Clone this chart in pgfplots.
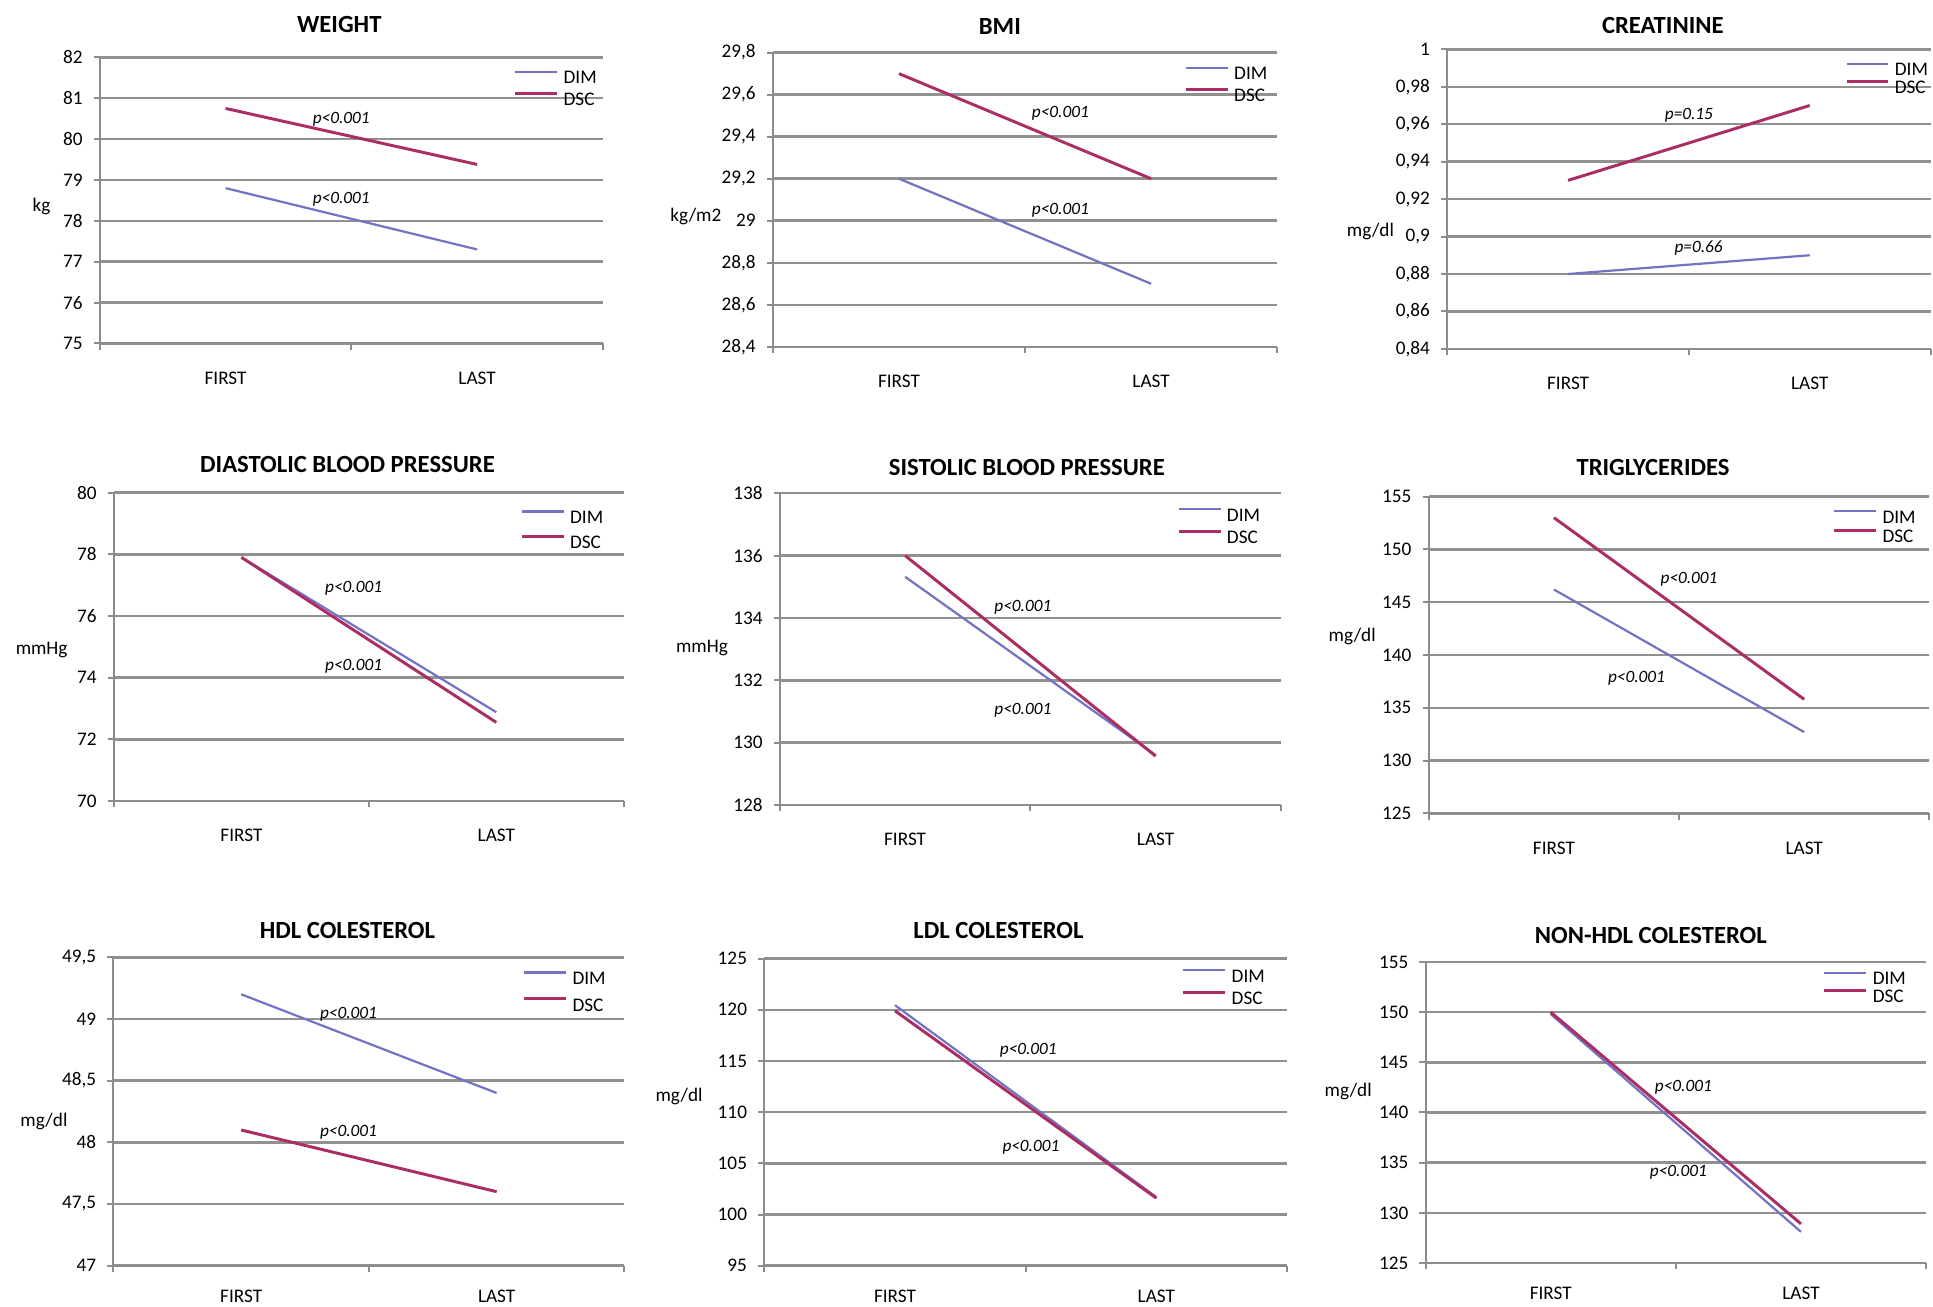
\documentclass[border=0pt]{standalone}
\usepackage{fontspec}
\setmainfont{Carlito}
\usepackage{pgfplots}
\pgfplotsset{compat=1.18}

\definecolor{dimc}{RGB}{115,115,195}
\definecolor{dscc}{RGB}{170,45,100}
\definecolor{gridc}{RGB}{145,145,145}
\definecolor{axc}{RGB}{140,140,140}

\newcommand\tickfont{\fontsize{7.8}{9}\selectfont}
\newcommand\titlefont{\fontsize{10}{12}\selectfont\bfseries}
\newcommand\pfont{\fontsize{7}{8}\selectfont\itshape}

\pgfplotsset{
  panel/.style={
    scale only axis, anchor=south west, clip=false,
    xmin=0, xmax=2,
    xtick={0,1,2}, xticklabels={},
    extra x ticks={0.5,1.5}, extra x tick labels={FIRST,LAST},
    extra x tick style={major tick length=0pt},
    axis lines=left, axis line style={-, draw=axc, line width=0.8pt},
    ymajorgrids, grid style={draw=gridc, line width=1pt},
    tick align=outside, major tick length=2.5pt,
    tick style={draw=axc, line width=0.8pt},
    tick label style={font=\tickfont},
    xticklabel style={yshift=-8pt},
    yticklabel style={xshift=-1pt},
    /pgf/number format/use comma,
    /pgf/number format/assume math mode=true,
    ylabel style={rotate=-90, anchor=center, font=\tickfont},
    legend cell align=left,
    legend image code/.code={\draw[##1] (0pt,2.4pt) -- (17pt,2.4pt);},
    legend style={anchor=west, draw=none, fill=none, inner sep=0pt,
      column sep=2pt, font=\tickfont,
      nodes={inner sep=0pt, text height=5pt, text depth=0pt}},
  },
  lastrow/.style={xticklabel style={yshift=1.8pt}},
  dim/.style={draw=dimc, line width=0.9pt},
  dsc/.style={draw=dscc, line width=1.2pt},
}

\begin{document}
\begin{tikzpicture}
\useasboundingbox (0,0) rectangle (784pt,-530pt);

% WEIGHT
\begin{axis}[panel, at={(40.5pt,-139.3pt)}, width=204pt, height=116.05pt,
  ymin=75, ymax=82, ytick={75,76,...,82},
  title={WEIGHT}, title style={at={(0.476,1)}, anchor=center, yshift=7.25pt, font=\titlefont},
  ylabel={kg}, ylabel style={at={(-0.116,0.478)}},
  legend style={at={(axis cs:1.644,81.25)}, row sep=3.25pt}]
\addplot[dim] coordinates {(0.5,78.8) (1.5,77.3)};
\addplot[dsc] coordinates {(0.5,80.75) (1.5,79.38)};
\legend{DIM,DSC}
\node[font=\pfont] at (axis cs:0.96,80.49) {p<0.001};
\node[font=\pfont] at (axis cs:0.96,78.52) {p<0.001};
\end{axis}

% BMI
\begin{axis}[panel, at={(313.5pt,-140.65pt)}, width=204.5pt, height=119.3pt,
  ymin=28.4, ymax=29.8, ytick={28.4,28.6,28.8,29,29.2,29.4,29.6,29.8},
  title={BMI}, title style={at={(0.45,1)}, anchor=center, yshift=4.7pt, font=\titlefont},
  ylabel={kg/m2}, ylabel style={at={(-0.153,0.442)}},
  legend style={at={(axis cs:1.63,29.65)}, row sep=3.45pt}]
\addplot[dim] coordinates {(0.5,29.2) (1.5,28.7)};
\addplot[dsc] coordinates {(0.5,29.7) (1.5,29.2)};
\legend{DIM,DSC}
\node[font=\pfont] at (axis cs:1.14,29.51) {p<0.001};
\node[font=\pfont] at (axis cs:1.14,29.05) {p<0.001};
\end{axis}

% CREATININE
\begin{axis}[panel, at={(587pt,-141.5pt)}, width=196pt, height=121.5pt,
  ymin=0.84, ymax=1, ytick={0.84,0.86,0.88,0.9,0.92,0.94,0.96,0.98,1},
  title={CREATININE}, title style={at={(0.446,1)}, anchor=center, yshift=3.75pt, font=\titlefont},
  ylabel={mg/dl}, ylabel style={at={(-0.159,0.391)}},
  legend style={at={(axis cs:1.644,0.9845)}, row sep=1.85pt}]
\addplot[dim] coordinates {(0.5,0.88) (1.5,0.89)};
\addplot[dsc] coordinates {(0.5,0.93) (1.5,0.97)};
\legend{DIM,DSC}
\node[font=\pfont] at (axis cs:1.0,0.965) {p=0.15};
\node[font=\pfont] at (axis cs:1.04,0.894) {p=0.66};
\end{axis}

% DIASTOLIC
\begin{axis}[panel, at={(46.25pt,-324.9pt)}, width=206.75pt, height=125.1pt,
  ymin=70, ymax=80, ytick={70,72,...,80},
  title={DIASTOLIC BLOOD PRESSURE}, title style={at={(0.458,1)}, anchor=center, yshift=5.4pt, font=\titlefont},
  ylabel={mmHg}, ylabel style={at={(-0.142,0.49)}},
  legend style={at={(axis cs:1.592,78.8)}, row sep=4.85pt}]
\addplot[dim] coordinates {(0.5,77.9) (1.5,72.88)};
\addplot[dsc] coordinates {(0.5,77.9) (1.5,72.55)};
\legend{DIM,DSC}
\node[font=\pfont] at (axis cs:0.94,76.9) {p<0.001};
\node[font=\pfont] at (axis cs:0.94,74.38) {p<0.001};
\end{axis}

% SISTOLIC
\begin{axis}[panel, at={(316.3pt,-326.5pt)}, width=203.2pt, height=126.45pt,
  ymin=128, ymax=138, ytick={128,130,...,138},
  title={SISTOLIC BLOOD PRESSURE}, title style={at={(0.493,1)}, anchor=center, yshift=4.3pt, font=\titlefont},
  ylabel={mmHg}, ylabel style={at={(-0.1555,0.5026)}},
  legend style={at={(axis cs:1.584,136.95)}, row sep=3.7pt}]
\addplot[dim] coordinates {(0.5,135.32) (1.5,129.6)};
\addplot[dsc] coordinates {(0.5,136.0) (1.5,129.57)};
\legend{DIM,DSC}
\node[font=\pfont] at (axis cs:0.97,134.34) {p<0.001};
\node[font=\pfont] at (axis cs:0.97,131.05) {p<0.001};
\end{axis}

% TRIGLYCERIDES
\begin{axis}[panel, at={(579.5pt,-329.9pt)}, width=203pt, height=128.5pt,
  ymin=125, ymax=155, ytick={125,130,...,155},
  title={TRIGLYCERIDES}, title style={at={(0.448,1)}, anchor=center, yshift=5.65pt, font=\titlefont},
  ylabel={mg/dl}, ylabel style={at={(-0.153,0.558)}},
  legend style={at={(axis cs:1.612,152.2)}, row sep=2.15pt}]
\addplot[dim] coordinates {(0.5,146.2) (1.5,132.7)};
\addplot[dsc] coordinates {(0.5,153.0) (1.5,135.8)};
\legend{DIM,DSC}
\node[font=\pfont] at (axis cs:1.04,147.2) {p<0.001};
\node[font=\pfont] at (axis cs:0.83,137.8) {p<0.001};
\end{axis}

% HDL
\begin{axis}[panel, lastrow, at={(46pt,-513.35pt)}, width=207.25pt, height=125.1pt,
  ymin=47, ymax=49.5, ytick={47,47.5,48,48.5,49,49.5},
  title={HDL COLESTEROL}, title style={at={(0.458,1)}, anchor=center, yshift=4.75pt, font=\titlefont},
  ylabel={mg/dl}, ylabel style={at={(-0.136,0.468)}},
  legend style={at={(axis cs:1.60,49.225)}, row sep=5.25pt}]
\addplot[dim] coordinates {(0.5,49.2) (1.5,48.4)};
\addplot[dsc] coordinates {(0.5,48.1) (1.5,47.6)};
\legend{DIM,DSC}
\node[font=\pfont] at (axis cs:0.92,49.035) {p<0.001};
\node[font=\pfont] at (axis cs:0.92,48.08) {p<0.001};
\end{axis}

% LDL
\begin{axis}[panel, lastrow, at={(310pt,-513.35pt)}, width=212pt, height=124.55pt,
  ymin=95, ymax=125, ytick={95,100,...,125},
  title={LDL COLESTEROL}, title style={at={(0.448,1)}, anchor=center, yshift=5.3pt, font=\titlefont},
  ylabel={mg/dl}, ylabel style={at={(-0.163,0.5516)}},
  legend style={at={(axis cs:1.596,122.24)}, row sep=3.7pt}]
\addplot[dim] coordinates {(0.5,120.45) (1.5,101.7)};
\addplot[dsc] coordinates {(0.5,119.9) (1.5,101.6)};
\legend{DIM,DSC}
\node[font=\pfont] at (axis cs:1.01,116.0) {p<0.001};
\node[font=\pfont] at (axis cs:1.02,106.6) {p<0.001};
\end{axis}

% NON-HDL
\begin{axis}[panel, lastrow, at={(578.2pt,-512.25pt)}, width=203pt, height=122.1pt,
  ymin=125, ymax=155, ytick={125,130,...,155},
  title={NON-HDL COLESTEROL}, title style={at={(0.45,1)}, anchor=center, yshift=4.9pt, font=\titlefont},
  ylabel={mg/dl}, ylabel style={at={(-0.1547,0.570)}},
  legend style={at={(axis cs:1.586,152.5)}, row sep=1.65pt}]
\addplot[dim] coordinates {(0.5,149.8) (1.5,128.1)};
\addplot[dsc] coordinates {(0.5,150.0) (1.5,128.9)};
\legend{DIM,DSC}
\node[font=\pfont] at (axis cs:1.03,142.55) {p<0.001};
\node[font=\pfont] at (axis cs:1.01,134.0) {p<0.001};
\end{axis}
\end{tikzpicture}
\end{document}
